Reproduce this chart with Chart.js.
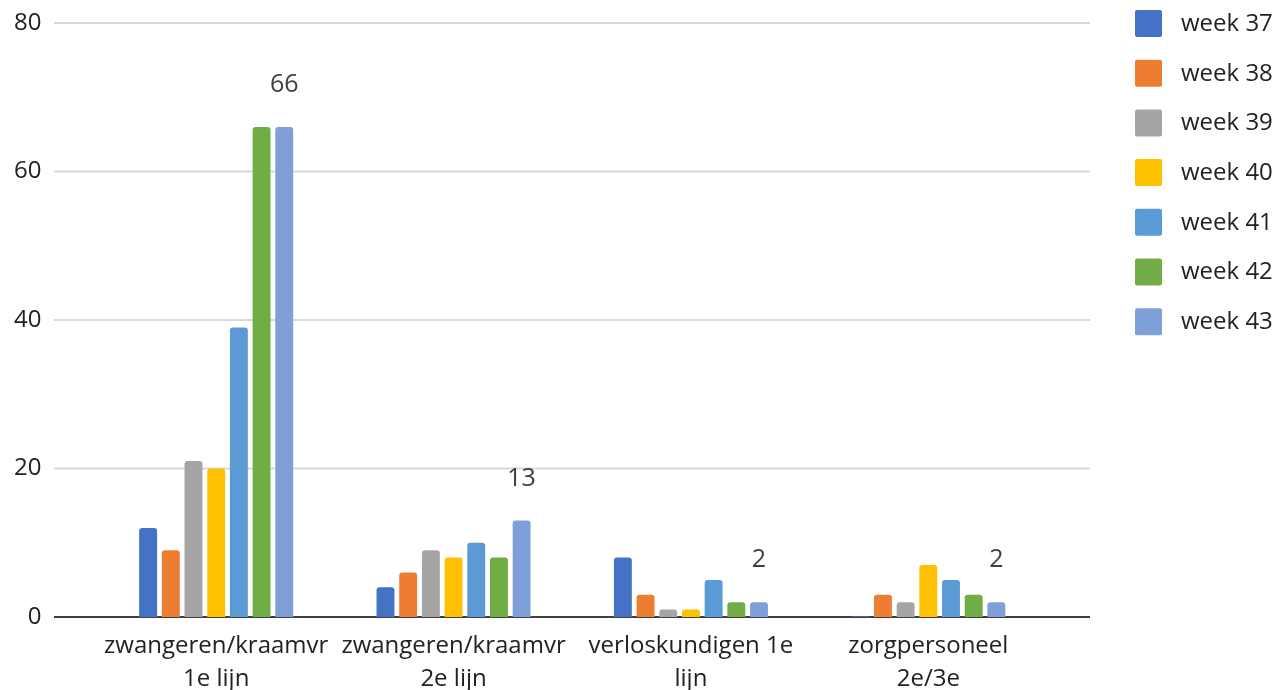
<!DOCTYPE html>
<html lang="nl">
<head>
<meta charset="UTF-8">
<title>Weekoverzicht</title>
<script src="https://cdn.jsdelivr.net/npm/chart.js"></script>
<style>
  html, body { margin: 0; padding: 0; background: #fff; }
  #wrap { width: 1276px; height: 690px; }
</style>
</head>
<body>
<div id="wrap">
  <canvas id="myChart"></canvas>
</div>
<script>
  // categorieen en waarden per week
  const categories = [
    ['zwangeren/kraamvr', '1e lijn'],
    ['zwangeren/kraamvr', '2e lijn'],
    ['verloskundigen 1e', 'lijn'],
    ['zorgpersoneel', '2e/3e']
  ];
  const weeks = ['week 37', 'week 38', 'week 39', 'week 40', 'week 41', 'week 42', 'week 43'];
  const week37 = [12, 4, 8, 0.1];
  const week38 = [9, 6, 3, 3];
  const week39 = [21, 9, 1, 2];
  const week40 = [20, 8, 1, 7];
  const week41 = [39, 10, 5, 5];
  const week42 = [66, 8, 2, 3];
  const week43 = [66, 13, 2, 2];
  const yTicks = [0, 20, 40, 60, 80];

  const colors = ['#4472C4', '#ED7D31', '#A5A5A5', '#FFC000', '#5B9BD5', '#70AD47', '#7F9FD9'];
  const series = [week37, week38, week39, week40, week41, week42, week43];
  const font = '"Open Sans", "DejaVu Sans", sans-serif';

  // gridlijnen over de hele breedte + labels bij week 43 + legenda
  const extras = {
    id: 'extras',
    beforeDatasetsDraw(chart) {
      const c = chart.ctx, y = chart.scales.y;
      c.save();
      yTicks.forEach(function (t) {
        const py = y.getPixelForValue(t);
        c.beginPath();
        c.lineWidth = 2;
        c.strokeStyle = t === 0 ? '#404040' : '#d9d9d9';
        c.moveTo(54, py);
        c.lineTo(1090, py);
        c.stroke();
      });
      c.restore();
    },
    afterDraw(chart) {
      const c = chart.ctx;
      c.save();
      // waardelabels laatste week
      const meta = chart.getDatasetMeta(6);
      c.font = '25px ' + font;
      c.fillStyle = '#404040';
      c.textAlign = 'center';
      c.textBaseline = 'middle';
      meta.data.forEach(function (bar, i) {
        c.fillText(String(week43[i]), bar.x, bar.y - 42);
      });
      // legenda
      c.font = '24px ' + font;
      c.textAlign = 'left';
      weeks.forEach(function (w, i) {
        const top = 10 + i * 49.7;
        c.fillStyle = colors[i];
        c.beginPath();
        c.roundRect(1135, top, 27, 27, 2);
        c.fill();
        c.fillStyle = '#222';
        c.fillText(w, 1181, top + 14);
      });
      c.restore();
    }
  };

  new Chart(document.getElementById('myChart'), {
    type: 'bar',
    data: {
      labels: categories,
      datasets: series.map(function (d, i) {
        return {
          label: weeks[i],
          data: d,
          backgroundColor: colors[i],
          borderRadius: 3,
          categoryPercentage: 0.669,
          barPercentage: 0.79
        };
      })
    },
    options: {
      responsive: true,
      maintainAspectRatio: false,
      animation: false,
      layout: { padding: { top: 0, right: 229, left: 0, bottom: 0 } },
      plugins: {
        legend: { display: false },
        tooltip: { enabled: false }
      },
      scales: {
        x: {
          grid: { display: false },
          border: { display: false },
          ticks: {
            color: '#222',
            padding: 5,
            maxRotation: 0,
            font: { family: font, size: 24, lineHeight: 1.375 }
          },
          afterFit(scale) { scale.height = 73; }
        },
        y: {
          min: 0,
          max: 80,
          grid: { display: false, drawTicks: false },
          border: { display: false },
          ticks: {
            stepSize: 20,
            color: '#222',
            padding: 56,
            font: { family: font, size: 24 }
          },
          afterFit(scale) {
            scale.width = 97.5;
            scale.paddingTop = 23;
            scale.paddingBottom = 0;
          }
        }
      }
    },
    plugins: [extras]
  });
</script>
</body>
</html>
